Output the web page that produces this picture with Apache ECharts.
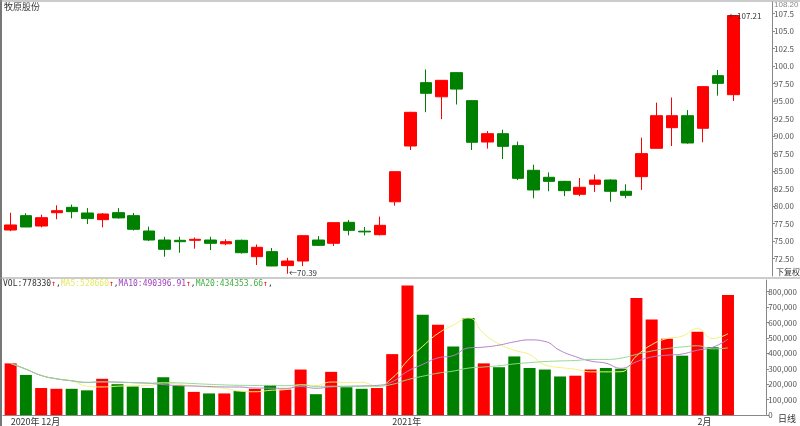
<!DOCTYPE html>
<html>
<head>
<meta charset="UTF-8">
<title>牧原股份 日线</title>
<script type="text/javascript" src="https://cdn.jsdelivr.net/npm/echarts@6/dist/echarts.min.js"></script>
<style>body{margin:0;background:#fff;}</style>
</head>
<body>
<div id="main" style="width:800px;height:426px;"></div>
<script type="text/javascript">
// 日期标签（空字符串表示不显示）
var dateLabels = ['2020年','','12月','','','','','','','','','','','','','','','','','','','','','','','2021年','','','','','','','','','','','','','','','','','','','','2月','','','',''];
// [开, 收, 低, 高]
var ohlc = [
  [76.57,77.29,76.4,79.04],[78.62,77.0,77.0,78.96],[77.14,78.33,76.95,78.76],[79.04,79.33,78.1,80.1],
  [79.81,79.19,78.24,80.2],[79.0,78.2,77.43,79.7],[78.05,78.86,76.95,79.0],[79.05,78.3,78.2,79.7],
  [78.62,76.67,76.5,79.0],[76.43,75.14,75.0,77.05],[75.14,73.81,72.76,75.6],[75.1,74.9,73.33,75.6],
  [75.1,75.24,73.9,75.5],[75.14,74.67,73.7,75.6],[74.6,74.9,74.4,75.24],[75.1,73.33,73.2,75.2],
  [72.76,74.1,71.57,74.5],[73.48,71.43,71.4,74.0],[71.48,72.14,70.39,72.6],[72.14,75.76,71.4,75.8],
  [75.14,74.38,74.3,75.7],[74.67,77.62,74.29,77.7],[77.67,76.52,75.8,78.0],[76.4,76.3,75.8,77.0],
  [75.9,77.24,75.8,78.48],[80.6,84.9,80.05,84.95],[88.57,93.38,88.0,93.45],[97.62,96.1,93.4,99.5],
  [95.6,97.95,92.4,98.0],[99.05,96.7,94.5,99.1],[95.05,89.1,88.0,95.1],[89.14,90.33,88.2,90.7],
  [90.33,88.52,86.7,90.9],[88.62,83.95,83.7,89.2],[85.1,82.29,81.1,85.9],[84.1,83.52,82.1,84.8],
  [83.52,82.19,81.4,83.6],[81.67,82.67,81.4,84.0],[83.1,83.71,82.0,84.5],[83.71,82.1,80.6,83.8],
  [82.1,81.52,81.1,83.1],[84.19,87.48,82.3,89.76],[88.24,92.9,88.2,94.76],[91.19,92.9,88.57,95.5],
  [92.9,89.0,88.9,93.7],[91.1,97.05,89.1,97.1],[98.62,97.52,95.76,99.43],[95.9,107.21,95.0,107.21]
];
var volumes = [335000,260000,175000,170000,170000,160000,235000,200000,185000,175000,245000,190000,
  150000,140000,140000,155000,170000,195000,165000,295000,135000,280000,180000,170000,
  175000,395000,840000,650000,585000,445000,630000,335000,310000,380000,305000,295000,
  250000,255000,295000,305000,300000,760000,620000,495000,385000,540000,440000,778330];

var UP = '#ff0000', DOWN = '#008000';

function ma(n) {
  var out = [];
  for (var i = 0; i < volumes.length; i++) {
    var s = 0, c = 0;
    for (var j = Math.max(0, i - n + 1); j <= i; j++) { s += volumes[j]; c++; }
    out.push(s / c);
  }
  return out;
}

var volData = volumes.map(function (v, i) {
  var up = ohlc[i][1] >= ohlc[i][0];
  return { value: v, itemStyle: { color: up ? UP : DOWN } };
});

var chart = echarts.init(document.getElementById('main'));
var xCommon = {
  type: 'category', data: dateLabels, boundaryGap: true,
  axisTick: { show: false }, splitLine: { show: false }
};
chart.setOption({
  animation: false,
  textStyle: { fontFamily: 'Noto Sans CJK SC' },
  grid: [
    { left: 3, right: 28, top: 2, height: 274 },
    { left: 3, right: 28, top: 280, height: 135 }
  ],
  xAxis: [
    Object.assign({}, xCommon, { gridIndex: 0, axisLine: { show: false }, axisLabel: { show: false } }),
    Object.assign({}, xCommon, {
      gridIndex: 1,
      axisLine: { lineStyle: { color: '#888' } },
      axisLabel: { interval: 0, color: '#333', fontSize: 9, align: 'left', margin: 2 }
    })
  ],
  yAxis: [
    {
      gridIndex: 0, position: 'right', min: 70, max: 109.14, interval: 2.5,
      axisLine: { show: true, lineStyle: { color: '#888' } },
      axisTick: { show: true, length: 3 }, splitLine: { show: false },
      axisLabel: { color: '#555', fontSize: 8, margin: 2, showMinLabel: false, showMaxLabel: false,
        formatter: function (v) { return v.toPrecision(4); } }
    },
    {
      gridIndex: 1, position: 'right', min: 0, max: 876000, interval: 100000,
      axisLine: { show: true, lineStyle: { color: '#888' } },
      axisTick: { show: true, length: 3 }, splitLine: { show: false },
      axisLabel: { color: '#555', fontSize: 8, margin: 2, showMaxLabel: false }
    }
  ],
  series: [
    {
      type: 'candlestick', xAxisIndex: 0, yAxisIndex: 0, data: ohlc, barWidth: 12,
      itemStyle: { color: UP, color0: DOWN, borderColor: UP, borderColor0: DOWN, borderWidth: 1 },
      markPoint: {
        symbol: 'circle', symbolSize: 1,
        label: { show: true, position: 'right', color: '#333', fontSize: 8, distance: 1 },
        data: [
          { coord: [47, 107.21], value: '←107.21', label: { formatter: '←107.21', offset: [-6, 0] } },
          { coord: [18, 70.39], value: '←70.39', label: { formatter: '←70.39' } }
        ]
      }
    },
    { type: 'bar', xAxisIndex: 1, yAxisIndex: 1, data: volData, barWidth: 12 },
    { type: 'line', xAxisIndex: 1, yAxisIndex: 1, data: ma(5), smooth: true, symbol: 'none', lineStyle: { color: '#f2f27a', width: 1 } },
    { type: 'line', xAxisIndex: 1, yAxisIndex: 1, data: ma(10), smooth: true, symbol: 'none', lineStyle: { color: '#b080c8', width: 1 } },
    { type: 'line', xAxisIndex: 1, yAxisIndex: 1, data: ma(20), smooth: true, symbol: 'none', lineStyle: { color: '#90d890', width: 1 } }
  ],
  graphic: [
    { type: 'rect', shape: { x: 0, y: 0, width: 2, height: 426 }, style: { fill: '#777' } },
    { type: 'line', shape: { x1: 0, y1: 1, x2: 800, y2: 1 }, style: { stroke: '#999' } },
    { type: 'line', shape: { x1: 0, y1: 278, x2: 800, y2: 278 }, style: { stroke: '#999' } },
    { type: 'text', left: 4, top: 2, style: { text: '牧原股份', fill: '#333', font: '9px "Noto Sans CJK SC"' } },
    { type: 'text', left: 774, top: 1, style: { text: '108.20', fill: '#888', font: '8px sans-serif' } },
    { type: 'text', left: 776, top: 268, style: { text: '下复权', fill: '#333', font: '8px "Noto Sans CJK SC"' } },
    { type: 'text', left: 778, top: 414, style: { text: '日线', fill: '#333', font: '9px "Noto Sans CJK SC"' } },
    { type: 'text', left: 3, top: 280, style: { rich: {
        k: { fill: '#333', font: '8px monospace' }, a: { fill: '#ff0000', font: '8px monospace' },
        y: { fill: '#e8e860', font: '8px monospace' }, p: { fill: '#a040c0', font: '8px monospace' },
        g: { fill: '#40b040', font: '8px monospace' } },
      text: '{k|VOL:778330}{a|↑}{k|,}{y|MA5:528660}{a|↑}{k|,}{p|MA10:490396.91}{a|↑}{k|,}{g|MA20:434353.66}{a|↑}{k|,}' } }
  ]
});
</script>
</body>
</html>
